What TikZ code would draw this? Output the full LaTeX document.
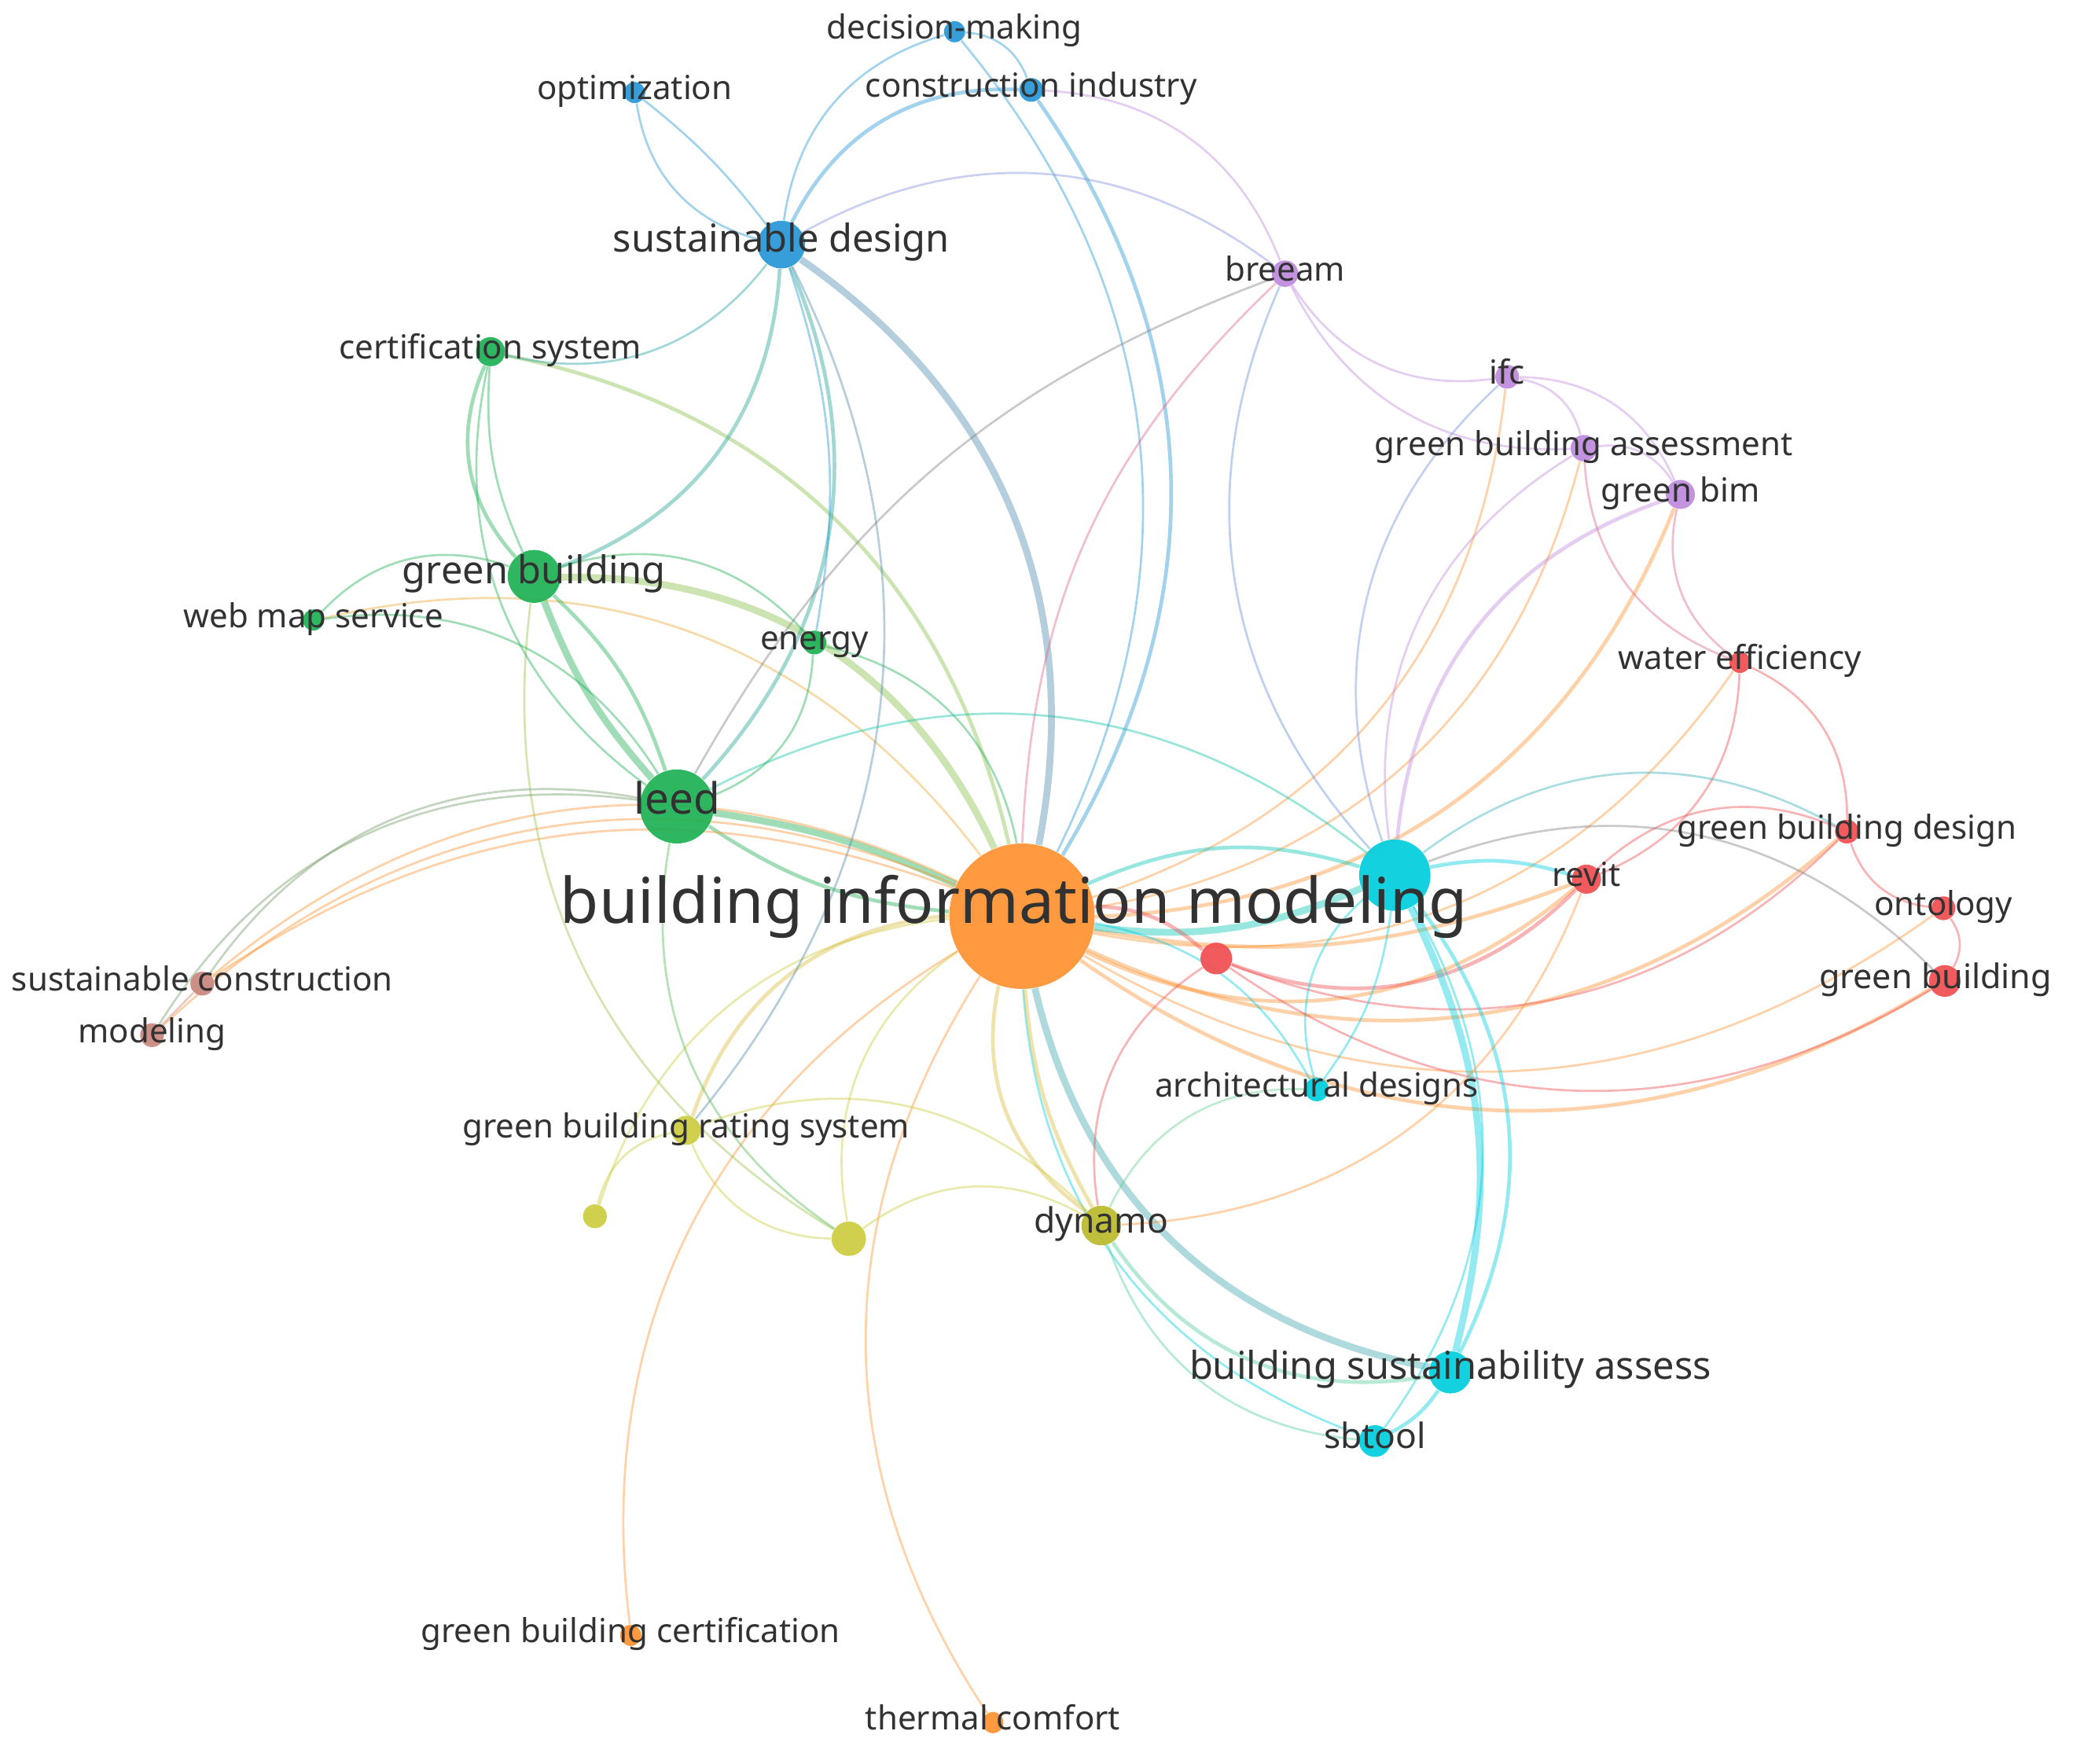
\documentclass[tikz,border=0pt]{standalone}
\usepackage{fontspec}
\setmainfont{Noto Sans}
\definecolor{cOr}{RGB}{255,146,48}
\definecolor{cGr}{RGB}{30,176,84}
\definecolor{cBl}{RGB}{38,150,214}
\definecolor{cPu}{RGB}{192,138,222}
\definecolor{cCy}{RGB}{0,206,222}
\definecolor{cRe}{RGB}{240,78,80}
\definecolor{cBr}{RGB}{200,135,125}
\definecolor{cOl}{RGB}{204,204,64}
\definecolor{cDy}{RGB}{186,186,44}
\definecolor{cTx}{RGB}{50,50,50}
\pgfdeclarelayer{bg}
\pgfdeclarelayer{edges}
\pgfsetlayers{bg,edges,main}
\begin{document}
\begin{tikzpicture}[x=0.5pt,y=-0.5pt,
  kw/.style={circle,inner sep=0pt,draw=none,fill=#1,fill opacity=0.92},
  ed/.style={draw=#1,draw opacity=0.42,line width=0.8pt},
  md/.style={line width=1.4pt},
  tk/.style={line width=2.6pt},
  br/.style={bend right=33},
  bl/.style={bend left=33},
  lb/.style={text=cTx,inner sep=0pt,text height=0.55em,text depth=0pt,font=\fontsize{12.5}{14}\selectfont},
  lbm/.style={lb,font=\fontsize{14.5}{16}\selectfont},
  lbl/.style={lb,font=\fontsize{16.3}{18}\selectfont},
  lbx/.style={lb,font=\fontsize{23.8}{26}\selectfont}]
\begin{pgfonlayer}{bg}
\fill[white] (0,0) rectangle (1568,1334);
\end{pgfonlayer}
\useasboundingbox (0,0) rectangle (1568,1334);

% nodes
\node[kw=cOr,minimum size=55pt] (B) at (773,693) {};
\node[kw=cCy,minimum size=27pt] (C) at (1055,662) {};
\node[kw=cRe,minimum size=12pt] (RN) at (920,725) {};
\node[kw=cBl,minimum size=18pt] (SD) at (591,185) {};
\node[kw=cBl,minimum size=8pt] (DM) at (722,24) {};
\node[kw=cBl,minimum size=8pt] (OPT) at (480,70) {};
\node[kw=cBl,minimum size=9pt] (CI) at (780,68) {};
\node[kw=cPu,minimum size=10pt] (BR) at (972,207) {};
\node[kw=cPu,minimum size=9pt] (IFC) at (1140,285) {};
\node[kw=cPu,minimum size=10pt] (GBA) at (1198,339) {};
\node[kw=cPu,minimum size=11pt] (GBIM) at (1271,374) {};
\node[kw=cGr,minimum size=11pt] (CS) at (371,266) {};
\node[kw=cGr,minimum size=20pt] (GB) at (404,436) {};
\node[kw=cGr,minimum size=8pt] (WMS) at (237,469) {};
\node[kw=cGr,minimum size=9pt] (EN) at (616,486) {};
\node[kw=cGr,minimum size=28pt] (LEED) at (512,610) {};
\node[kw=cBr,minimum size=9pt] (SC) at (153,744) {};
\node[kw=cBr,minimum size=9pt] (MOD) at (115,783) {};
\node[kw=cOl,minimum size=11pt] (GBRS) at (519,855) {};
\node[kw=cOl,minimum size=9pt] (Y1) at (450,920) {};
\node[kw=cOl,minimum size=13pt] (Y2) at (642,937) {};
\node[kw=cDy,minimum size=15pt] (DY) at (833,927) {};
\node[kw=cCy,minimum size=9pt] (AD) at (996,824) {};
\node[kw=cCy,minimum size=16pt] (BSA) at (1097,1038) {};
\node[kw=cCy,minimum size=12pt] (SBT) at (1040,1090) {};
\node[kw=cRe,minimum size=8pt] (WE) at (1316,501) {};
\node[kw=cRe,minimum size=9pt] (GBD) at (1397,629) {};
\node[kw=cRe,minimum size=11pt] (REV) at (1200,665) {};
\node[kw=cRe,minimum size=9pt] (ONT) at (1470,687) {};
\node[kw=cRe,minimum size=12pt] (RGB) at (1471,742) {};
\node[kw=cOr,minimum size=8pt] (GBC) at (477,1237) {};
\node[kw=cOr,minimum size=8pt] (TC) at (751,1303) {};

% edges
\begin{pgfonlayer}{edges}
% from building information modeling
\draw[ed=cBl!55!gray,tk] (B) to[br] (SD);
\draw[ed=cBl] (B) to[br] (DM);
\draw[ed=cBl,md] (B) to[br] (CI);
\draw[ed=cRe!60!cPu] (B) to[bend left=22] (BR);
\draw[ed=cOr] (B) to[br] (IFC);
\draw[ed=cOr] (B) to[br] (GBA);
\draw[ed=cOr,md] (B) to[br] (GBIM);
\draw[ed=cOr] (B) to[br] (WE);
\draw[ed=cOr,md] (B) to[br] (GBD);
\draw[ed=cOr,md] (B) to[bend right=15] (REV);
\draw[ed=cOr,md] (B) to[br] (REV);
\draw[ed=cOr] (B) to[br] (ONT);
\draw[ed=cOr,md] (B) to[br] (RGB);
\draw[ed=cCy!70!cGr,tk] (B) to[bend right=15] (C);
\draw[ed=cCy!70!cGr,md] (B) to[bend left=20] (C);
\draw[ed=cRe,md] (B) to[bend left=20] (RN);
\draw[ed=cCy] (B) to[bend left=25] (AD);
\draw[ed=cCy!50!gray,tk] (B) to[br] (BSA);
\draw[ed=cCy] (B) to[br] (SBT);
\draw[ed=cOl!70!cOr,md] (B) to[br] (DY);
\draw[ed=cOl!70!cOr,md] (B) to[bend right=12] (DY);
\draw[ed=cOl] (B) to[br] (Y2);
\draw[ed=cOl] (B) to[br] (Y1);
\draw[ed=cOl!70!cOr,md] (B) to[br] (GBRS);
\draw[ed=cOr] (B) to[br] (GBC);
\draw[ed=cOr] (B) to[br] (TC);
\draw[ed=cGr,tk] (B) to[bend right=8] (LEED);
\draw[ed=cGr,md] (B) to[bend left=14] (LEED);
\draw[ed=cOl!60!cGr,tk] (B) to[br] (GB);
\draw[ed=cOl!60!cGr,md] (B) to[br] (CS);
\draw[ed=cOr!60!cOl] (B) to[br] (WMS);
\draw[ed=cGr] (B) to[br] (EN);
\draw[ed=cOr] (B) to[br] (SC);
\draw[ed=cOr] (B) to[bend right=27] (SC);
\draw[ed=cOr] (B) to[br] (MOD);
% sustainable design
\draw[ed=cBl] (SD) to[bl] (OPT);
\draw[ed=cBl] (SD) to[bend right=7] (OPT);
\draw[ed=cBl] (SD) to[bl] (DM);
\draw[ed=cBl,md] (SD) to[bl] (CI);
\draw[ed=cPu!60!cBl] (SD) to[bl] (BR);
\draw[ed=cBl!60!cGr] (CS) to[br] (SD);
\draw[ed=cBl!50!cGr,md] (GB) to[br] (SD);
\draw[ed=cBl!50!cGr,md] (LEED) to[br] (SD);
\draw[ed=cBl] (SD) to[bend left=14] (EN);
\draw[ed=cBl!50!gray] (SD) to[bl] (GBRS);
\draw[ed=cBl] (DM) to[bl] (CI);
\draw[ed=cPu] (CI) to[bl] (BR);
% purple
\draw[ed=cPu] (BR) to[br] (IFC);
\draw[ed=cPu] (BR) to[br] (GBA);
\draw[ed=cPu] (IFC) to[bl] (GBA);
\draw[ed=cPu] (IFC) to[bl] (GBIM);
\draw[ed=cPu] (GBA) to[bl] (GBIM);
\draw[ed=cBl!60!cPu] (BR) to[br] (C);
\draw[ed=cBl!50!cPu] (IFC) to[br] (C);
\draw[ed=cPu] (GBA) to[br] (C);
\draw[ed=cPu,md] (GBIM) to[br] (C);
\draw[ed=gray] (LEED) to[bend left=20] (BR);
% red
\draw[ed=cRe!60!cPu] (GBA) to[br] (WE);
\draw[ed=cRe!60!cPu] (GBIM) to[br] (WE);
\draw[ed=cRe] (WE) to[bl] (GBD);
\draw[ed=cRe] (WE) to[bl] (REV);
\draw[ed=cRe] (GBD) to[br] (ONT);
\draw[ed=cRe] (ONT) to[bl] (RGB);
\draw[ed=cRe] (REV) to[bl] (GBD);
\draw[ed=cRe,md] (RN) to[br] (REV);
\draw[ed=cRe] (RN) to[br] (GBD);
\draw[ed=cRe] (RN) to[br] (RGB);
\draw[ed=cCy!60!gray] (C) to[bl] (GBD);
\draw[ed=gray] (C) to[bl] (RGB);
\draw[ed=cCy,md] (C) to[bend left=14] (REV);
% cyan
\draw[ed=cCy,tk] (C) to[bend left=20] (BSA);
\draw[ed=cCy,md] (C) to[bend left=32] (BSA);
\draw[ed=cCy] (C) to[bl] (SBT);
\draw[ed=cCy] (C) to[br] (AD);
\draw[ed=cCy] (AD) to[bend right=14] (C);
\draw[ed=cCy,md] (BSA) to[bend left=14] (SBT);
\draw[ed=cCy!60!cGr] (LEED) to[bl] (C);
% dynamo and olive
\draw[ed=cOl] (DY) to[br] (Y2);
\draw[ed=cOl] (GBRS) to[bl] (DY);
\draw[ed=cCy!50!cOl] (DY) to[bl] (AD);
\draw[ed=cCy!60!cOl,md] (DY) to[br] (BSA);
\draw[ed=cCy!60!cOl] (DY) to[br] (SBT);
\draw[ed=cOr] (DY) to[br] (REV);
\draw[ed=cRe] (RN) to[br] (DY);
\draw[ed=cOl] (Y1) to[bl] (GBRS);
\draw[ed=cOl] (GBRS) to[br] (Y2);
\draw[ed=cOl!70!cGr] (GB) to[br] (Y2);
\draw[ed=cGr!70!cOl] (LEED) to[br] (Y2);
% green
\draw[ed=cGr,md] (CS) to[br] (GB);
\draw[ed=cGr] (CS) to[bend right=14] (GB);
\draw[ed=cGr] (CS) to[br] (LEED);
\draw[ed=cGr] (WMS) to[bl] (GB);
\draw[ed=cGr] (WMS) to[bl] (LEED);
\draw[ed=cGr,tk] (GB) to[bend right=10] (LEED);
\draw[ed=cGr,md] (GB) to[bend left=14] (LEED);
\draw[ed=cGr] (GB) to[bl] (EN);
\draw[ed=cGr] (LEED) to[br] (EN);
\draw[ed=cGr!50!cBr] (SC) to[bl] (LEED);
\draw[ed=cGr!50!cBr] (MOD) to[bl] (LEED);
\draw[ed=cBr] (SC) to (MOD);
\end{pgfonlayer}

% labels
\node[lb] (DM-l) at (DM) {decision-making};
\node[lb] (OPT-l) at (OPT) {optimization};
\node[lb] (CI-l) at (CI) {construction industry};
\node[lbm] (SD-l) at (SD) {sustainable design};
\node[lb] (BR-l) at (BR) {breeam};
\node[lb] (IFC-l) at (IFC) {ifc};
\node[lb] (GBA-l) at (GBA) {green building assessment};
\node[lb] (GBIM-l) at (GBIM) {green bim};
\node[lb] (CS-l) at (CS) {certification system};
\node[lbm] (GB-l) at (GB) {green building};
\node[lb] (WMS-l) at (WMS) {web map service};
\node[lb] (EN-l) at (EN) {energy};
\node[lbl] (LEED-l) at (LEED) {leed};
\node[lbx] (B-l) at (767,693) {building information modeling};
\node[lb] (SC-l) at (SC) {sustainable construction};
\node[lb] (MOD-l) at (MOD) {modeling};
\node[lb] (GBRS-l) at (GBRS) {green building rating system};
\node[lb,font=\fontsize{13.2}{15}\selectfont] (DY-l) at (DY) {dynamo};
\node[lb] (AD-l) at (AD) {architectural designs};
\node[lbm] (BSA-l) at (BSA) {building sustainability assess};
\node[lb,font=\fontsize{13.2}{15}\selectfont] (SBT-l) at (SBT) {sbtool};
\node[lb] (WE-l) at (WE) {water efficiency};
\node[lb] (GBD-l) at (GBD) {green building design};
\node[lb] (REV-l) at (REV) {revit};
\node[lb] (ONT-l) at (ONT) {ontology};
\node[lb,font=\fontsize{12.8}{15}\selectfont] (RGB-l) at (1464,742) {green building};
\node[lb] (GBC-l) at (GBC) {green building certification};
\node[lb] (TC-l) at (TC) {thermal comfort};
\end{tikzpicture}
\end{document}
